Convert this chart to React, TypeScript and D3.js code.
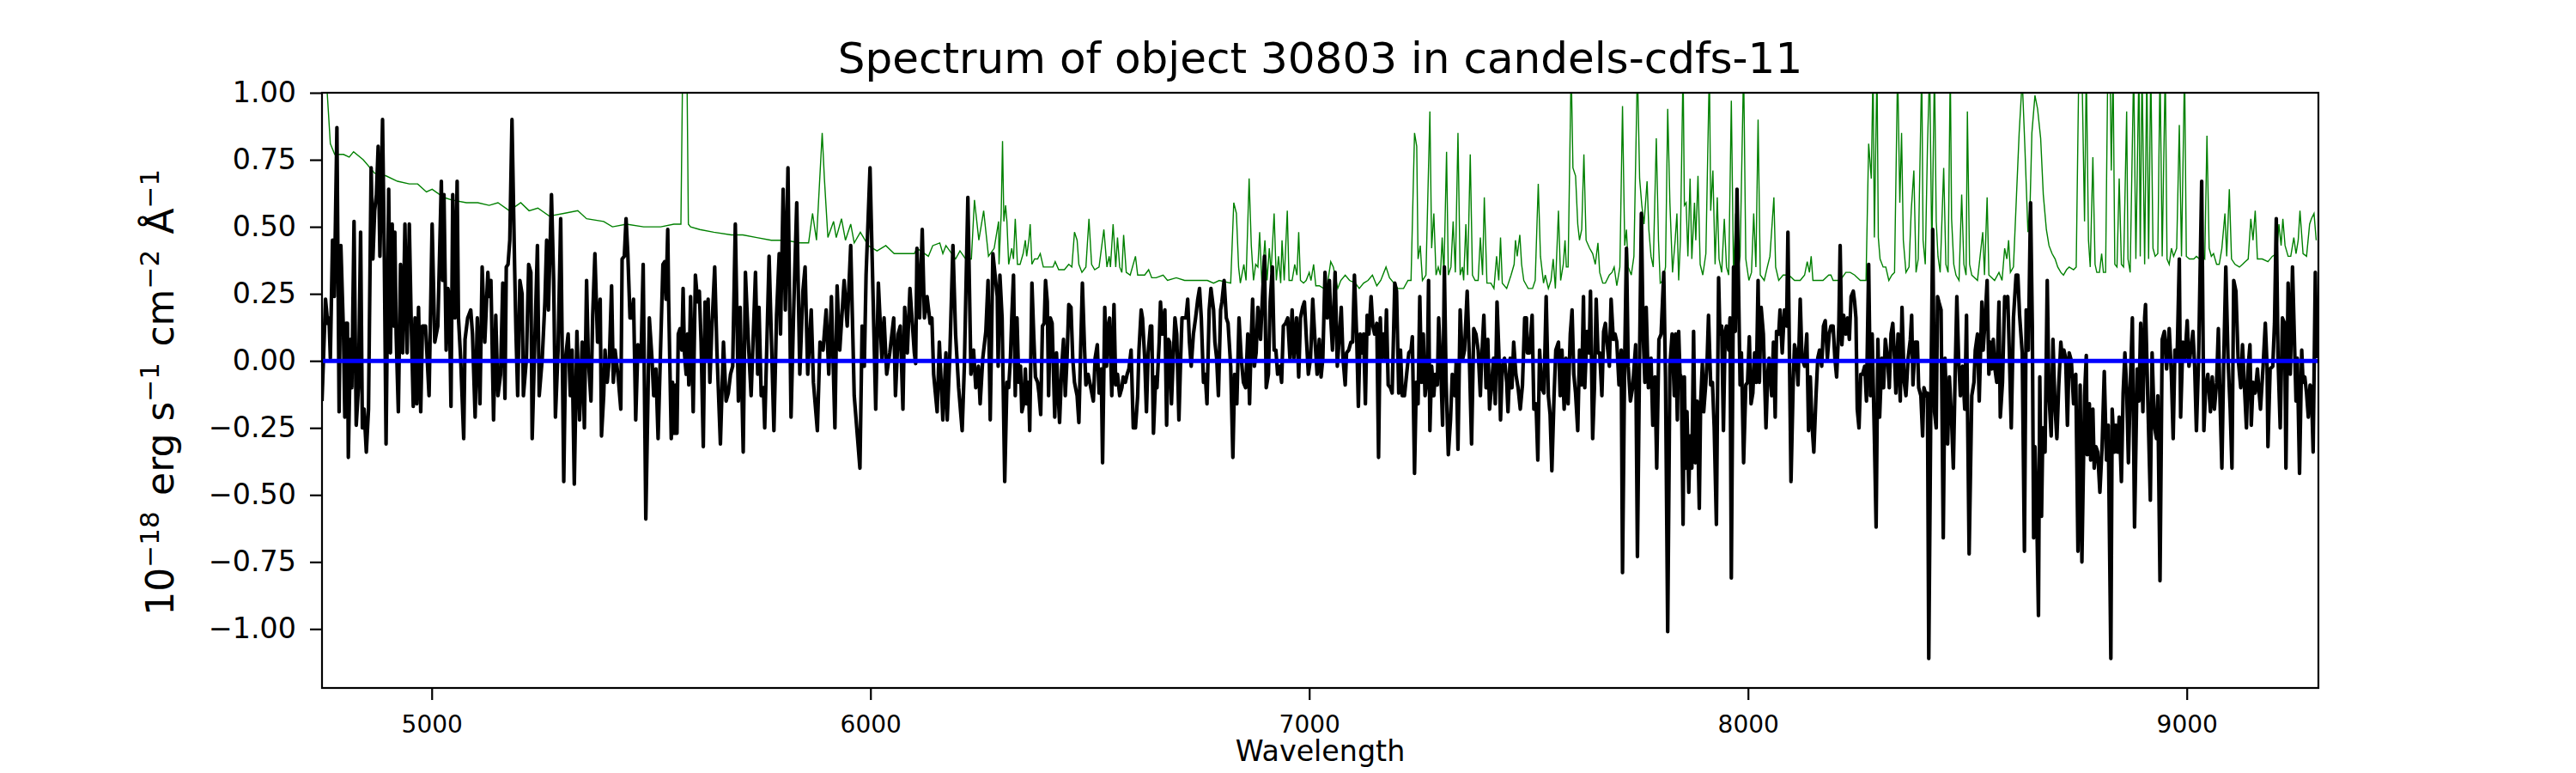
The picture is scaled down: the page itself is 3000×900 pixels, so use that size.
import React, { useEffect, useRef } from 'react';
import * as d3 from 'd3';

// figure text and axis settings
const title = 'Spectrum of object 30803 in candels-cdfs-11';
const xLabel = 'Wavelength';
const xTicks = [5000, 6000, 7000, 8000, 9000];
const yTicks = [-1, -0.75, -0.5, -0.25, 0, 0.25, 0.5, 0.75, 1];
const xDomain = [4750, 9300];
const yDomain = [-1.22, 1];

const flux: [number, number][] = [
  [4750, -0.15], [4758, 0.23], [4763, 0.14], [4766, 0.16], [4769, 0.01], [4774, 0.45], [4778, 0.24], [4780, 0.45], [4784, 0.87], [4789, -0.19],
  [4793, 0.43], [4799, 0.10], [4802, -0.21], [4805, 0.14], [4808, 0.14], [4810, -0.36], [4815, 0.08], [4818, -0.10], [4823, 0.52], [4828, -0.24],
  [4833, -0.10], [4838, 0.48], [4842, -0.25], [4846, -0.18], [4851, -0.34], [4856, -0.18], [4862, 0.72], [4866, 0.38], [4870, 0.56], [4874, 0.62],
  [4878, 0.80], [4882, 0.39], [4888, 0.90], [4892, 0.39], [4896, -0.31], [4902, 0.64], [4906, 0.03], [4910, 0.51], [4913, 0.13], [4916, 0.48],
  [4919, 0.10], [4924, -0.19], [4929, 0.36], [4934, 0.03], [4939, 0.51], [4944, 0.03], [4949, 0.51], [4953, 0.17], [4958, -0.17], [4962, 0.16],
  [4966, -0.16], [4970, 0.20], [4975, -0.19], [4979, 0.13], [4986, 0.13], [4994, -0.13], [5001, 0.51], [5007, 0.07], [5014, 0.13], [5022, 0.67],
  [5025, 0.30], [5028, 0.62], [5033, 0.04], [5037, 0.27], [5040, 0.24], [5044, -0.17], [5048, 0.62], [5053, 0.16], [5058, 0.67], [5061, 0.16],
  [5066, 0.01], [5073, -0.29], [5076, 0.08], [5082, 0.16], [5089, 0.19], [5093, 0.10], [5099, -0.21], [5104, 0.16], [5110, -0.16], [5115, 0.35],
  [5121, 0.07], [5128, 0.33], [5131, 0.24], [5135, 0.30], [5141, -0.22], [5146, 0.17], [5151, -0.13], [5157, -0.05], [5162, 0.29], [5167, -0.14],
  [5170, 0.35], [5174, 0.36], [5178, 0.45], [5183, 0.90], [5189, 0.35], [5192, 0.11], [5196, -0.13], [5201, 0.30], [5206, 0.25], [5209, -0.13],
  [5216, 0.01], [5221, 0.36], [5226, 0.33], [5229, -0.29], [5236, 0.13], [5241, 0.43], [5245, -0.13], [5252, 0.01], [5258, 0.22], [5262, 0.45],
  [5266, 0.19], [5273, 0.62], [5278, 0.30], [5282, -0.21], [5288, 0.04], [5294, 0.53], [5301, -0.45], [5305, 0.01], [5311, 0.10], [5316, -0.13],
  [5320, 0.04], [5325, -0.46], [5331, 0.11], [5337, -0.22], [5343, 0.07], [5348, -0.25], [5353, 0.30], [5357, 0.01], [5363, -0.15], [5367, 0.17],
  [5372, 0.40], [5378, 0.07], [5384, 0.23], [5387, -0.28], [5392, -0.13], [5395, 0.04], [5400, -0.08], [5405, 0.01], [5410, 0.28], [5414, -0.08],
  [5418, 0.04], [5425, -0.06], [5431, -0.18], [5434, 0.38], [5439, 0.39], [5443, 0.53], [5447, 0.40], [5452, 0.16], [5456, 0.16], [5460, 0.23],
  [5465, -0.22], [5470, 0.06], [5477, 0.00], [5482, 0.36], [5488, -0.59], [5493, -0.12], [5496, 0.16], [5502, 0.01], [5506, -0.13], [5511, -0.03],
  [5516, -0.29], [5527, 0.36], [5531, 0.37], [5534, 0.23], [5538, 0.49], [5540, 0.23], [5546, -0.29], [5549, -0.08], [5553, -0.27], [5556, -0.09],
  [5559, -0.27], [5562, 0.10], [5566, 0.12], [5570, 0.04], [5573, 0.27], [5576, 0.03], [5580, -0.05], [5583, 0.10], [5586, -0.09], [5590, 0.24],
  [5596, -0.19], [5601, 0.32], [5606, 0.22], [5610, 0.26], [5614, 0.07], [5619, -0.32], [5623, 0.22], [5625, 0.01], [5630, 0.23], [5634, -0.08],
  [5638, 0.10], [5645, 0.35], [5650, 0.04], [5658, -0.31], [5665, 0.07], [5671, -0.15], [5676, -0.12], [5681, -0.05], [5686, -0.02], [5692, 0.51],
  [5699, -0.15], [5703, 0.20], [5710, -0.34], [5715, 0.33], [5722, 0.06], [5728, -0.13], [5738, 0.33], [5743, -0.05], [5746, 0.20], [5751, -0.13],
  [5756, -0.10], [5759, -0.25], [5769, 0.39], [5780, -0.26], [5786, 0.17], [5792, 0.40], [5795, 0.10], [5801, 0.64], [5806, 0.19], [5812, 0.72],
  [5819, -0.21], [5825, 0.19], [5832, 0.59], [5839, -0.05], [5846, 0.26], [5851, 0.35], [5857, -0.05], [5865, 0.19], [5870, -0.08], [5879, -0.26],
  [5885, 0.07], [5892, 0.04], [5899, 0.19], [5905, -0.05], [5911, 0.24], [5919, -0.25], [5924, 0.28], [5930, 0.04], [5940, 0.30], [5947, 0.13],
  [5955, 0.43], [5963, -0.13], [5976, -0.40], [5981, 0.13], [5986, -0.02], [5990, 0.32], [5999, 0.72], [6012, -0.18], [6018, 0.29], [6026, 0.01],
  [6031, 0.16], [6037, -0.05], [6044, 0.03], [6053, 0.16], [6057, -0.13], [6063, 0.10], [6068, 0.13], [6074, -0.18], [6078, 0.20], [6084, 0.03],
  [6090, 0.27], [6100, 0.03], [6103, -0.01], [6106, 0.42], [6112, 0.16], [6118, 0.49], [6123, 0.16], [6129, 0.24], [6136, 0.14], [6140, 0.16],
  [6144, -0.05], [6152, -0.19], [6157, 0.07], [6165, -0.22], [6172, 0.03], [6175, -0.22], [6181, 0.03], [6188, 0.43], [6194, 0.10], [6201, -0.10],
  [6209, -0.26], [6214, -0.02], [6222, 0.61], [6229, -0.05], [6235, 0.04], [6240, -0.10], [6246, -0.02], [6250, -0.16], [6256, 0.01], [6263, 0.11],
  [6268, 0.30], [6273, -0.22], [6279, 0.40], [6289, 0.24], [6291, -0.02], [6295, 0.32], [6300, 0.16], [6306, -0.45], [6311, -0.08], [6315, -0.10],
  [6319, 0.01], [6322, 0.16], [6326, 0.32], [6330, -0.13], [6334, 0.16], [6338, -0.08], [6342, -0.02], [6345, -0.19], [6349, -0.16], [6353, -0.03],
  [6356, -0.16], [6360, -0.08], [6363, -0.26], [6368, 0.29], [6372, 0.10], [6376, -0.06], [6381, -0.08], [6384, -0.12], [6388, -0.20], [6392, 0.13],
  [6396, 0.14], [6399, 0.30], [6403, 0.22], [6406, -0.13], [6410, 0.16], [6414, 0.14], [6420, -0.21], [6424, 0.03], [6428, -0.13], [6431, -0.23],
  [6436, -0.02], [6440, 0.08], [6444, -0.13], [6448, 0.01], [6452, 0.21], [6457, 0.20], [6461, 0.01], [6465, -0.08], [6471, -0.13], [6475, -0.23],
  [6479, 0.04], [6483, 0.29], [6488, 0.04], [6491, -0.09], [6496, -0.05], [6501, -0.09], [6508, -0.15], [6512, 0.01], [6517, 0.06], [6521, -0.12],
  [6526, -0.03], [6529, -0.38], [6534, 0.20], [6538, -0.02], [6542, 0.13], [6545, 0.16], [6550, -0.13], [6555, 0.21], [6559, -0.09], [6563, -0.05],
  [6568, -0.13], [6573, -0.10], [6576, -0.06], [6581, -0.08], [6585, -0.05], [6589, -0.03], [6594, 0.04], [6599, -0.25], [6604, -0.25], [6609, -0.13],
  [6612, 0.04], [6617, 0.19], [6620, 0.16], [6625, 0.01], [6629, -0.19], [6633, 0.03], [6638, 0.13], [6641, 0.13], [6645, -0.27], [6650, -0.06],
  [6653, -0.10], [6658, 0.07], [6661, 0.22], [6665, 0.10], [6671, 0.19], [6675, -0.24], [6679, 0.08], [6682, 0.07], [6686, -0.16], [6690, 0.01],
  [6694, 0.16], [6698, 0.10], [6703, -0.22], [6707, 0.01], [6710, 0.16], [6714, 0.16], [6719, 0.16], [6723, 0.23], [6727, 0.07], [6731, -0.02],
  [6736, 0.10], [6741, 0.16], [6746, 0.23], [6750, 0.27], [6754, 0.16], [6759, -0.08], [6763, -0.05], [6767, -0.16], [6772, 0.19], [6776, 0.27],
  [6782, 0.19], [6785, 0.07], [6789, 0.01], [6793, -0.13], [6798, 0.19], [6801, 0.22], [6806, 0.30], [6811, 0.16], [6815, 0.14], [6821, -0.02],
  [6826, -0.36], [6830, -0.05], [6835, -0.16], [6840, 0.16], [6845, 0.01], [6850, -0.08], [6855, -0.10], [6860, 0.10], [6864, -0.16], [6868, 0.09],
  [6871, 0.23], [6875, -0.02], [6879, 0.03], [6883, 0.20], [6889, 0.08], [6894, 0.26], [6898, 0.39], [6902, -0.10], [6907, -0.05], [6911, 0.22],
  [6916, 0.35], [6920, 0.04], [6924, 0.04], [6928, -0.05], [6933, -0.02], [6937, -0.08], [6941, 0.13], [6946, 0.14], [6951, 0.16], [6956, 0.01],
  [6961, 0.19], [6965, 0.01], [6971, 0.16], [6976, -0.06], [6980, 0.16], [6985, 0.20], [6989, 0.22], [6993, 0.10], [6998, -0.05], [7003, 0.01],
  [7008, 0.23], [7013, 0.08], [7018, -0.05], [7023, 0.08], [7027, -0.06], [7031, 0.01], [7036, 0.33], [7041, 0.16], [7046, 0.30], [7049, 0.16],
  [7053, 0.04], [7059, 0.33], [7064, -0.02], [7069, 0.10], [7073, 0.20], [7077, 0.01], [7082, -0.09], [7085, 0.03], [7090, 0.04], [7095, 0.07],
  [7099, 0.07], [7103, 0.32], [7108, 0.10], [7112, -0.17], [7116, 0.10], [7121, 0.03], [7124, 0.10], [7128, -0.16], [7132, 0.17], [7136, 0.10],
  [7141, 0.24], [7145, 0.13], [7149, 0.10], [7154, 0.14], [7158, -0.36], [7162, 0.16], [7165, 0.01], [7169, 0.10], [7173, 0.01], [7176, 0.19],
  [7180, -0.09], [7185, -0.10], [7189, -0.12], [7195, 0.29], [7199, 0.26], [7204, -0.12], [7208, 0.04], [7212, -0.13], [7217, -0.13], [7222, -0.05],
  [7227, 0.03], [7232, 0.04], [7235, 0.09], [7240, -0.42], [7244, -0.08], [7248, -0.16], [7252, 0.24], [7256, -0.08], [7260, 0.10], [7264, -0.13],
  [7269, -0.06], [7272, 0.30], [7275, -0.26], [7279, -0.02], [7284, -0.13], [7287, -0.05], [7292, -0.09], [7295, 0.16], [7299, 0.01], [7304, -0.24],
  [7308, 0.35], [7312, -0.08], [7317, -0.35], [7322, -0.22], [7326, -0.05], [7332, -0.13], [7335, 0.00], [7339, -0.33], [7344, 0.19], [7349, 0.00],
  [7354, 0.04], [7360, 0.26], [7365, 0.01], [7370, -0.31], [7375, 0.12], [7380, 0.10], [7385, 0.04], [7390, -0.13], [7393, 0.01], [7398, 0.17],
  [7403, -0.10], [7407, 0.08], [7411, -0.18], [7416, -0.08], [7420, 0.01], [7424, -0.16], [7428, 0.22], [7432, 0.04], [7436, -0.22], [7440, -0.02],
  [7445, 0.01], [7450, -0.08], [7453, -0.19], [7458, 0.01], [7462, -0.10], [7466, 0.07], [7471, -0.05], [7476, -0.10], [7481, -0.18], [7486, -0.09],
  [7491, 0.16], [7495, 0.16], [7497, 0.03], [7502, 0.03], [7508, 0.17], [7512, -0.18], [7517, -0.16], [7521, -0.37], [7525, 0.04], [7530, -0.10],
  [7535, -0.12], [7540, 0.24], [7545, -0.13], [7549, -0.20], [7553, -0.41], [7558, -0.13], [7562, 0.04], [7568, 0.07], [7572, -0.13], [7576, 0.04],
  [7581, -0.18], [7585, 0.01], [7590, -0.16], [7595, 0.10], [7599, 0.19], [7603, -0.05], [7607, -0.12], [7612, -0.26], [7616, 0.04], [7621, -0.09],
  [7625, 0.24], [7628, -0.10], [7633, 0.11], [7638, 0.03], [7641, 0.26], [7646, -0.29], [7650, -0.10], [7654, 0.23], [7658, 0.03], [7662, 0.03],
  [7667, -0.13], [7671, 0.11], [7675, 0.14], [7678, 0.08], [7684, -0.02], [7688, 0.23], [7693, 0.08], [7697, 0.10], [7701, 0.07], [7706, -0.09],
  [7711, 0.04], [7714, -0.79], [7719, 0.01], [7723, 0.42], [7727, -0.02], [7732, -0.15], [7737, -0.10], [7744, 0.06], [7748, -0.73], [7753, 0.03],
  [7757, 0.55], [7761, 0.10], [7765, -0.08], [7768, 0.20], [7773, -0.10], [7779, 0.01], [7783, -0.24], [7788, -0.06], [7792, -0.40], [7797, 0.08],
  [7802, 0.10], [7808, 0.33], [7812, -0.06], [7817, -1.01], [7822, -0.02], [7827, 0.10], [7832, -0.13], [7835, 0.10], [7839, -0.22], [7842, 0.11],
  [7845, -0.05], [7848, -0.06], [7852, -0.61], [7855, -0.06], [7858, -0.40], [7861, -0.19], [7865, -0.49], [7868, -0.28], [7872, -0.40], [7876, 0.11],
  [7880, -0.38], [7884, -0.15], [7889, -0.55], [7892, -0.16], [7896, -0.01], [7899, -0.19], [7904, -0.08], [7907, 0.01], [7910, 0.17], [7915, -0.09],
  [7919, -0.08], [7923, -0.25], [7928, -0.61], [7933, 0.31], [7936, 0.10], [7940, 0.13], [7944, -0.26], [7948, 0.11], [7951, 0.13], [7956, 0.04],
  [7959, 0.16], [7962, -0.81], [7967, 0.35], [7971, 0.11], [7975, 0.64], [7979, 0.22], [7982, -0.09], [7985, 0.03], [7990, -0.38], [7995, -0.09],
  [7999, -0.08], [8003, 0.09], [8007, -0.16], [8011, -0.12], [8015, 0.03], [8019, -0.08], [8023, 0.30], [8026, -0.08], [8030, 0.20], [8035, 0.10],
  [8041, -0.25], [8045, -0.05], [8048, 0.01], [8054, -0.13], [8058, 0.07], [8062, -0.21], [8065, 0.11], [8070, 0.10], [8073, 0.19], [8078, 0.03],
  [8083, 0.19], [8088, 0.13], [8091, 0.48], [8095, -0.05], [8098, -0.45], [8103, -0.08], [8106, 0.06], [8110, 0.03], [8114, -0.09], [8119, 0.23],
  [8123, 0.01], [8129, -0.02], [8134, 0.10], [8138, -0.26], [8142, -0.06], [8146, -0.24], [8150, -0.34], [8155, -0.13], [8159, 0.01], [8163, 0.04],
  [8168, -0.02], [8172, 0.13], [8176, 0.15], [8181, 0.01], [8185, 0.10], [8189, 0.13], [8194, 0.13], [8198, 0.01], [8202, -0.06], [8207, 0.13],
  [8210, 0.43], [8214, 0.06], [8218, 0.17], [8223, 0.10], [8227, 0.16], [8231, 0.08], [8235, 0.24], [8240, 0.26], [8243, 0.22], [8246, 0.16],
  [8249, -0.18], [8253, -0.25], [8257, -0.05], [8261, -0.05], [8266, -0.02], [8270, -0.15], [8275, 0.36], [8279, -0.13], [8283, 0.10], [8288, -0.28],
  [8292, -0.62], [8296, 0.08], [8300, -0.21], [8305, 0.01], [8309, -0.10], [8313, 0.08], [8318, 0.01], [8322, -0.10], [8326, 0.10], [8330, 0.14],
  [8334, 0.01], [8337, -0.12], [8342, 0.10], [8347, -0.15], [8351, 0.20], [8356, -0.08], [8360, -0.13], [8365, 0.01], [8370, 0.08], [8373, 0.17],
  [8376, -0.09], [8381, 0.07], [8386, 0.07], [8389, -0.10], [8394, -0.13], [8398, -0.28], [8401, -0.10], [8406, -0.13], [8409, -0.12], [8412, -1.11],
  [8417, -0.10], [8421, 0.49], [8425, -0.19], [8429, -0.25], [8432, 0.24], [8435, 0.22], [8440, 0.19], [8445, -0.66], [8449, 0.01], [8455, -0.31],
  [8459, -0.06], [8464, -0.22], [8468, -0.40], [8472, -0.06], [8476, 0.24], [8480, 0.01], [8484, -0.13], [8489, -0.02], [8494, -0.18], [8498, 0.17],
  [8504, -0.72], [8510, -0.13], [8515, -0.08], [8518, 0.04], [8523, 0.10], [8527, -0.15], [8533, 0.22], [8536, 0.04], [8541, 0.17], [8545, 0.30],
  [8549, -0.05], [8552, 0.07], [8556, -0.03], [8559, 0.08], [8562, -0.02], [8567, -0.08], [8572, 0.22], [8575, -0.21], [8580, -0.08], [8585, 0.24],
  [8588, 0.20], [8592, 0.24], [8596, 0.01], [8600, -0.25], [8605, 0.16], [8611, 0.32], [8615, 0.32], [8619, 0.17], [8625, 0.03], [8630, -0.71],
  [8634, 0.19], [8639, 0.04], [8644, 0.59], [8648, 0.13], [8651, -0.66], [8654, -0.32], [8658, -0.56], [8662, -0.95], [8665, -0.06], [8669, -0.58],
  [8672, -0.25], [8677, -0.34], [8682, 0.30], [8686, -0.13], [8691, -0.28], [8695, 0.08], [8700, -0.18], [8704, -0.29], [8708, -0.10], [8713, 0.07],
  [8716, 0.01], [8720, 0.04], [8724, 0.01], [8728, -0.24], [8732, 0.03], [8737, 0.00], [8742, -0.16], [8747, -0.05], [8752, -0.71], [8757, -0.09],
  [8761, -0.75], [8767, -0.13], [8771, 0.02], [8773, -0.35], [8778, -0.16], [8781, -0.37], [8786, -0.18], [8789, -0.40], [8793, -0.32], [8797, -0.34],
  [8802, -0.49], [8807, -0.32], [8812, -0.04], [8817, -0.37], [8821, -0.24], [8827, -1.11], [8830, -0.18], [8835, -0.34], [8838, -0.24], [8842, -0.34],
  [8846, -0.21], [8851, -0.45], [8855, -0.12], [8859, 0.03], [8863, -0.10], [8867, -0.38], [8872, -0.05], [8876, 0.16], [8881, -0.62], [8887, -0.03],
  [8891, -0.15], [8895, 0.14], [8900, -0.19], [8904, 0.16], [8906, 0.21], [8911, -0.13], [8917, -0.52], [8921, 0.03], [8926, -0.24], [8931, -0.29],
  [8934, -0.13], [8939, -0.82], [8944, 0.08], [8949, 0.11], [8954, -0.03], [8960, 0.12], [8965, -0.05], [8969, -0.29], [8973, 0.04], [8978, 0.01],
  [8983, 0.38], [8986, -0.21], [8991, 0.07], [8996, 0.01], [9001, 0.15], [9005, -0.02], [9009, 0.04], [9014, 0.11], [9018, -0.02], [9022, -0.26],
  [9027, 0.01], [9034, 0.67], [9039, -0.26], [9043, -0.10], [9048, -0.05], [9054, -0.19], [9058, -0.06], [9063, -0.18], [9068, -0.08], [9072, 0.12],
  [9076, -0.16], [9080, -0.40], [9084, -0.02], [9089, 0.35], [9094, 0.01], [9099, -0.18], [9103, -0.40], [9107, 0.30], [9112, 0.26], [9117, 0.01],
  [9123, -0.10], [9127, 0.06], [9131, -0.08], [9136, -0.25], [9140, -0.02], [9144, 0.06], [9147, -0.24], [9151, -0.08], [9156, -0.12], [9161, -0.03],
  [9164, -0.10], [9168, -0.18], [9174, -0.02], [9179, 0.14], [9183, -0.02], [9185, -0.32], [9190, -0.03], [9196, -0.02], [9200, 0.14], [9204, 0.53],
  [9208, 0.01], [9213, -0.25], [9218, 0.16], [9223, 0.14], [9226, -0.40], [9231, 0.29], [9236, -0.05], [9241, 0.35], [9245, 0.10], [9249, -0.15],
  [9252, 0.01], [9257, -0.42], [9262, 0.04], [9265, -0.08], [9269, -0.06], [9273, -0.12], [9277, -0.21], [9281, -0.09], [9284, -0.10], [9288, -0.34],
  [9293, 0.33], [9296, 0.01],
];

// noise / sky level [wavelength, value] (green)
const noise: [number, number][] = [
  [4750, 1.3], [4760, 1.05], [4769, 0.81], [4779, 0.77], [4799, 0.77], [4812, 0.76], [4822, 0.78], [4844, 0.75], [4870, 0.70], [4896, 0.69],
  [4922, 0.67], [4949, 0.66], [4968, 0.66], [4988, 0.63], [5001, 0.64], [5027, 0.61], [5046, 0.60], [5079, 0.59], [5105, 0.59], [5131, 0.58],
  [5151, 0.59], [5177, 0.56], [5203, 0.59], [5222, 0.56], [5242, 0.57], [5268, 0.54], [5301, 0.55], [5333, 0.56], [5353, 0.53], [5392, 0.52],
  [5412, 0.50], [5444, 0.51], [5483, 0.50], [5522, 0.50], [5552, 0.51], [5568, 0.51], [5574, 1.4], [5580, 1.4], [5585, 0.51], [5590, 0.50],
  [5611, 0.49], [5643, 0.48], [5683, 0.47], [5709, 0.47], [5741, 0.46], [5774, 0.45], [5806, 0.45], [5839, 0.44], [5859, 0.44], [5868, 0.55],
  [5877, 0.45], [5890, 0.85], [5895, 0.68], [5903, 0.46], [5916, 0.52], [5922, 0.46], [5934, 0.53], [5943, 0.45], [5955, 0.51], [5963, 0.44],
  [5977, 0.48], [5995, 0.43], [6015, 0.41], [6035, 0.43], [6054, 0.40], [6080, 0.40], [6100, 0.40], [6106, 0.42], [6132, 0.39], [6142, 0.43],
  [6158, 0.44], [6165, 0.40], [6172, 0.43], [6194, 0.38], [6204, 0.41], [6217, 0.38], [6230, 0.38], [6237, 0.60], [6247, 0.45], [6258, 0.56],
  [6269, 0.39], [6282, 0.42], [6292, 0.52], [6293, 0.36], [6298, 0.55], [6301, 0.82], [6304, 0.52], [6308, 0.58], [6311, 0.52], [6315, 0.36],
  [6322, 0.42], [6326, 0.38], [6330, 0.53], [6335, 0.36], [6341, 0.36], [6348, 0.40], [6353, 0.45], [6356, 0.39], [6361, 0.45], [6364, 0.51],
  [6368, 0.36], [6374, 0.38], [6381, 0.38], [6387, 0.40], [6394, 0.35], [6403, 0.35], [6416, 0.35], [6421, 0.37], [6429, 0.34], [6442, 0.34],
  [6452, 0.36], [6459, 0.35], [6465, 0.48], [6471, 0.45], [6475, 0.36], [6482, 0.33], [6491, 0.35], [6498, 0.53], [6504, 0.36], [6511, 0.34],
  [6521, 0.35], [6532, 0.49], [6539, 0.35], [6544, 0.39], [6547, 0.35], [6553, 0.51], [6559, 0.35], [6563, 0.46], [6568, 0.35], [6573, 0.33],
  [6577, 0.47], [6583, 0.33], [6592, 0.32], [6604, 0.39], [6609, 0.32], [6625, 0.32], [6634, 0.34], [6641, 0.31], [6651, 0.31], [6667, 0.32],
  [6677, 0.30], [6697, 0.31], [6716, 0.30], [6742, 0.30], [6768, 0.30], [6782, 0.29], [6795, 0.30], [6821, 0.29], [6828, 0.59], [6834, 0.55],
  [6839, 0.35], [6843, 0.29], [6851, 0.36], [6856, 0.30], [6863, 0.68], [6868, 0.43], [6873, 0.30], [6878, 0.36], [6883, 0.35], [6887, 0.48],
  [6892, 0.29], [6899, 0.45], [6904, 0.30], [6909, 0.42], [6913, 0.33], [6920, 0.55], [6925, 0.30], [6930, 0.39], [6935, 0.29], [6938, 0.45],
  [6943, 0.30], [6950, 0.56], [6954, 0.30], [6961, 0.30], [6967, 0.36], [6972, 0.32], [6976, 0.48], [6980, 0.30], [6987, 0.29], [6993, 0.30],
  [7000, 0.33], [7004, 0.30], [7010, 0.36], [7015, 0.28], [7023, 0.28], [7033, 0.27], [7042, 0.29], [7049, 0.37], [7055, 0.35], [7065, 0.27],
  [7072, 0.30], [7082, 0.32], [7092, 0.30], [7105, 0.29], [7114, 0.27], [7124, 0.29], [7134, 0.30], [7144, 0.32], [7154, 0.28], [7163, 0.30],
  [7175, 0.35], [7183, 0.31], [7193, 0.29], [7202, 0.27], [7215, 0.27], [7225, 0.30], [7232, 0.30], [7240, 0.85], [7245, 0.80], [7248, 0.38],
  [7253, 0.43], [7258, 0.30], [7266, 0.32], [7275, 0.93], [7279, 0.42], [7284, 0.55], [7289, 0.32], [7294, 0.35], [7299, 0.32], [7303, 0.46],
  [7307, 0.32], [7313, 0.78], [7317, 0.32], [7323, 0.35], [7328, 0.52], [7333, 0.33], [7339, 0.85], [7344, 0.32], [7349, 0.35], [7352, 0.30],
  [7357, 0.51], [7361, 0.32], [7367, 0.77], [7372, 0.32], [7378, 0.30], [7385, 0.30], [7390, 0.46], [7395, 0.32], [7399, 0.61], [7405, 0.29],
  [7414, 0.29], [7421, 0.27], [7427, 0.39], [7432, 0.30], [7436, 0.46], [7440, 0.29], [7450, 0.27], [7460, 0.32], [7467, 0.36], [7470, 0.45],
  [7474, 0.39], [7480, 0.47], [7484, 0.36], [7489, 0.30], [7499, 0.27], [7509, 0.27], [7515, 0.30], [7522, 0.66], [7527, 0.39], [7534, 0.29],
  [7538, 0.32], [7545, 0.27], [7551, 0.30], [7556, 0.38], [7561, 0.27], [7568, 0.56], [7573, 0.30], [7579, 0.36], [7583, 0.45], [7586, 0.35],
  [7590, 0.35], [7597, 1.1], [7601, 0.72], [7607, 0.69], [7612, 0.51], [7616, 0.45], [7621, 0.49], [7626, 0.77], [7631, 0.45], [7639, 0.42],
  [7646, 0.40], [7652, 0.36], [7658, 0.44], [7662, 0.33], [7669, 0.29], [7675, 0.29], [7684, 0.32], [7690, 0.33], [7695, 0.35], [7701, 0.28],
  [7708, 0.35], [7714, 0.95], [7719, 0.43], [7723, 0.49], [7727, 0.35], [7734, 0.32], [7740, 0.39], [7748, 1.1], [7753, 0.68], [7758, 0.58],
  [7763, 0.51], [7770, 0.67], [7774, 0.49], [7779, 0.39], [7784, 0.35], [7791, 0.83], [7796, 0.45], [7800, 0.29], [7806, 0.30], [7812, 0.35],
  [7817, 0.94], [7822, 0.59], [7828, 0.33], [7834, 0.45], [7838, 0.55], [7842, 0.30], [7846, 0.45], [7852, 1.1], [7855, 0.58], [7859, 0.59],
  [7863, 0.39], [7868, 0.68], [7872, 0.38], [7878, 0.59], [7881, 0.45], [7886, 0.69], [7891, 0.36], [7897, 0.32], [7904, 0.40], [7912, 1.1],
  [7915, 0.56], [7920, 0.71], [7925, 0.36], [7930, 0.61], [7934, 0.38], [7940, 0.33], [7946, 0.53], [7951, 0.35], [7956, 0.32], [7962, 0.97],
  [7967, 0.32], [7972, 0.55], [7977, 0.33], [7982, 0.39], [7990, 1.1], [7995, 0.38], [8002, 0.30], [8008, 0.33], [8013, 0.55], [8018, 0.35],
  [8023, 0.90], [8028, 0.32], [8037, 0.30], [8044, 0.35], [8050, 0.39], [8059, 0.61], [8063, 0.35], [8070, 0.30], [8080, 0.32], [8093, 0.32],
  [8106, 0.30], [8119, 0.30], [8129, 0.32], [8135, 0.37], [8140, 0.33], [8144, 0.39], [8148, 0.30], [8158, 0.30], [8171, 0.30], [8184, 0.32],
  [8189, 0.32], [8194, 0.30], [8210, 0.30], [8223, 0.33], [8233, 0.33], [8243, 0.32], [8256, 0.30], [8269, 0.30], [8275, 0.81], [8281, 0.68],
  [8285, 1.1], [8288, 0.46], [8294, 1.1], [8297, 0.46], [8301, 0.38], [8308, 0.35], [8314, 0.35], [8321, 0.30], [8328, 0.32], [8334, 0.33],
  [8341, 1.1], [8346, 0.59], [8350, 0.85], [8354, 0.45], [8360, 0.33], [8367, 0.35], [8372, 0.56], [8378, 0.71], [8383, 0.33], [8388, 0.38],
  [8396, 1.1], [8399, 0.45], [8404, 0.36], [8409, 0.80], [8414, 1.1], [8419, 0.40], [8425, 1.1], [8429, 0.52], [8433, 0.39], [8438, 0.33],
  [8446, 0.72], [8451, 0.36], [8456, 0.33], [8461, 1.1], [8464, 0.53], [8469, 0.36], [8474, 0.32], [8481, 0.30], [8487, 0.62], [8492, 0.36],
  [8497, 0.32], [8500, 0.93], [8505, 0.36], [8510, 0.32], [8523, 0.30], [8535, 0.48], [8539, 0.32], [8545, 0.61], [8549, 0.32], [8562, 0.30],
  [8572, 0.33], [8579, 0.30], [8585, 0.42], [8590, 0.38], [8594, 0.45], [8598, 0.33], [8605, 0.35], [8612, 0.62], [8618, 0.85], [8625, 1.05],
  [8631, 0.80], [8638, 0.48], [8643, 0.59], [8647, 0.85], [8654, 0.99], [8660, 0.94], [8667, 0.83], [8673, 0.62], [8680, 0.49], [8686, 0.43],
  [8693, 0.40], [8700, 0.38], [8706, 0.35], [8713, 0.33], [8719, 0.32], [8726, 0.34], [8732, 0.35], [8742, 0.34], [8748, 0.35], [8754, 1.1],
  [8761, 1.1], [8767, 0.52], [8771, 1.1], [8776, 0.45], [8780, 0.35], [8786, 0.76], [8791, 0.36], [8795, 0.33], [8801, 0.33], [8806, 0.40],
  [8810, 0.33], [8815, 0.33], [8820, 1.1], [8825, 1.1], [8828, 0.71], [8832, 1.1], [8836, 0.36], [8841, 0.35], [8846, 0.68], [8851, 0.36],
  [8856, 0.35], [8863, 0.93], [8866, 0.38], [8871, 0.33], [8879, 1.1], [8884, 0.38], [8891, 1.1], [8894, 0.39], [8898, 1.1], [8904, 0.36],
  [8909, 1.1], [8913, 0.38], [8918, 1.1], [8923, 0.42], [8928, 0.39], [8934, 0.40], [8939, 1.1], [8944, 0.39], [8951, 1.1], [8955, 0.38],
  [8960, 0.36], [8965, 0.42], [8970, 0.39], [8977, 0.42], [8983, 0.88], [8988, 0.39], [8995, 1.1], [8999, 0.39], [9006, 0.38], [9016, 0.38],
  [9022, 0.39], [9029, 0.38], [9035, 0.39], [9041, 0.38], [9046, 0.84], [9051, 0.42], [9056, 0.39], [9061, 0.40], [9068, 0.36], [9074, 0.36],
  [9080, 0.42], [9087, 0.55], [9091, 0.39], [9097, 0.64], [9102, 0.38], [9110, 0.36], [9120, 0.35], [9127, 0.36], [9133, 0.37], [9140, 0.38],
  [9146, 0.53], [9151, 0.45], [9156, 0.56], [9161, 0.38], [9172, 0.38], [9185, 0.37], [9195, 0.39], [9205, 0.40], [9210, 0.51], [9215, 0.43],
  [9219, 0.53], [9224, 0.43], [9231, 0.39], [9237, 0.39], [9244, 0.46], [9249, 0.40], [9254, 0.45], [9258, 0.56], [9265, 0.40], [9273, 0.39],
  [9280, 0.51], [9284, 0.53], [9290, 0.55], [9295, 0.45],
];

// model continuum (blue), flat at zero
const model: [number, number][] = [[4750, 0], [9300, 0]];

const W = 3000;
const H = 900;
const margin = { top: 108, right: 300, bottom: 99, left: 375 };
const FONT = '"DejaVu Sans", Verdana, sans-serif';

export default function App() {
  const svgRef = useRef<SVGSVGElement | null>(null);

  useEffect(() => {
    if (!svgRef.current) return;
    const svg = d3.select(svgRef.current);
    svg.selectAll('*').remove();

    const x = d3.scaleLinear().domain(xDomain).range([margin.left, W - margin.right]);
    const y = d3.scaleLinear().domain(yDomain).range([H - margin.bottom, margin.top]);

    svg.append('rect').attr('width', W).attr('height', H).attr('fill', '#fff');

    svg.append('defs').append('clipPath').attr('id', 'plot-clip')
      .append('rect')
      .attr('x', margin.left).attr('y', margin.top)
      .attr('width', W - margin.left - margin.right)
      .attr('height', H - margin.top - margin.bottom);

    const line = d3.line<[number, number]>().x(d => x(d[0])).y(d => y(d[1]));
    const plot = svg.append('g').attr('clip-path', 'url(#plot-clip)');

    plot.append('path').datum(noise)
      .attr('d', line).attr('fill', 'none')
      .attr('stroke', '#008000').attr('stroke-width', 1.4);

    plot.append('path').datum(flux)
      .attr('d', line).attr('fill', 'none')
      .attr('stroke', '#000').attr('stroke-width', 4.2)
      .attr('stroke-linejoin', 'round');

    plot.append('path').datum(model)
      .attr('d', line).attr('fill', 'none')
      .attr('stroke', '#0000ff').attr('stroke-width', 5);

    // axes
    const xAxis = svg.append('g')
      .attr('transform', `translate(0,${H - margin.bottom})`)
      .call(d3.axisBottom(x).tickValues(xTicks).tickSize(14).tickPadding(18).tickFormat(d3.format('d')));
    const yAxis = svg.append('g')
      .attr('transform', `translate(${margin.left},0)`)
      .call(d3.axisLeft(y).tickValues(yTicks).tickSize(14).tickPadding(16).tickFormat(d3.format('.2f')));

    [xAxis, yAxis].forEach(a => {
      a.select('.domain').remove();
      a.selectAll('.tick line').attr('stroke', '#000').attr('stroke-width', 2.2);
      a.selectAll('.tick text').attr('fill', '#000').attr('font-family', FONT);
    });
    xAxis.selectAll('.tick text').attr('font-size', 28);
    yAxis.selectAll('.tick text').attr('font-size', 33.3);

    // frame
    svg.append('rect')
      .attr('x', margin.left).attr('y', margin.top)
      .attr('width', W - margin.left - margin.right)
      .attr('height', H - margin.top - margin.bottom)
      .attr('fill', 'none').attr('stroke', '#000').attr('stroke-width', 2.2);

    // title and labels
    const cx = (margin.left + W - margin.right) / 2;
    svg.append('text')
      .attr('x', cx).attr('y', 85)
      .attr('text-anchor', 'middle')
      .attr('font-family', FONT).attr('font-size', 50)
      .text(title);

    svg.append('text')
      .attr('x', cx).attr('y', 886)
      .attr('text-anchor', 'middle')
      .attr('font-family', FONT).attr('font-size', 33.3)
      .text(xLabel);

    const yl = svg.append('text')
      .attr('transform', `translate(202,${(margin.top + H - margin.bottom) / 2}) rotate(-90)`)
      .attr('text-anchor', 'middle')
      .attr('font-family', FONT).attr('font-size', 44);
    const parts: [string, string][] = [['10', '\u221218'], [' erg s', '\u22121'], [' cm', '\u22122'], [' \u00c5', '\u22121']];
    parts.forEach(([base, sup]) => {
      yl.append('tspan').attr('dy', 0).text(base);
      yl.append('tspan').attr('dy', -17).attr('font-size', 31).text(sup);
      yl.append('tspan').attr('dy', 17).text('\u200a');
    });
  }, []);

  return (
    <svg
      ref={svgRef}
      width={W}
      height={H}
      style={{ position: 'absolute', left: 0, top: 0, display: 'block' }}
    />
  );
}
